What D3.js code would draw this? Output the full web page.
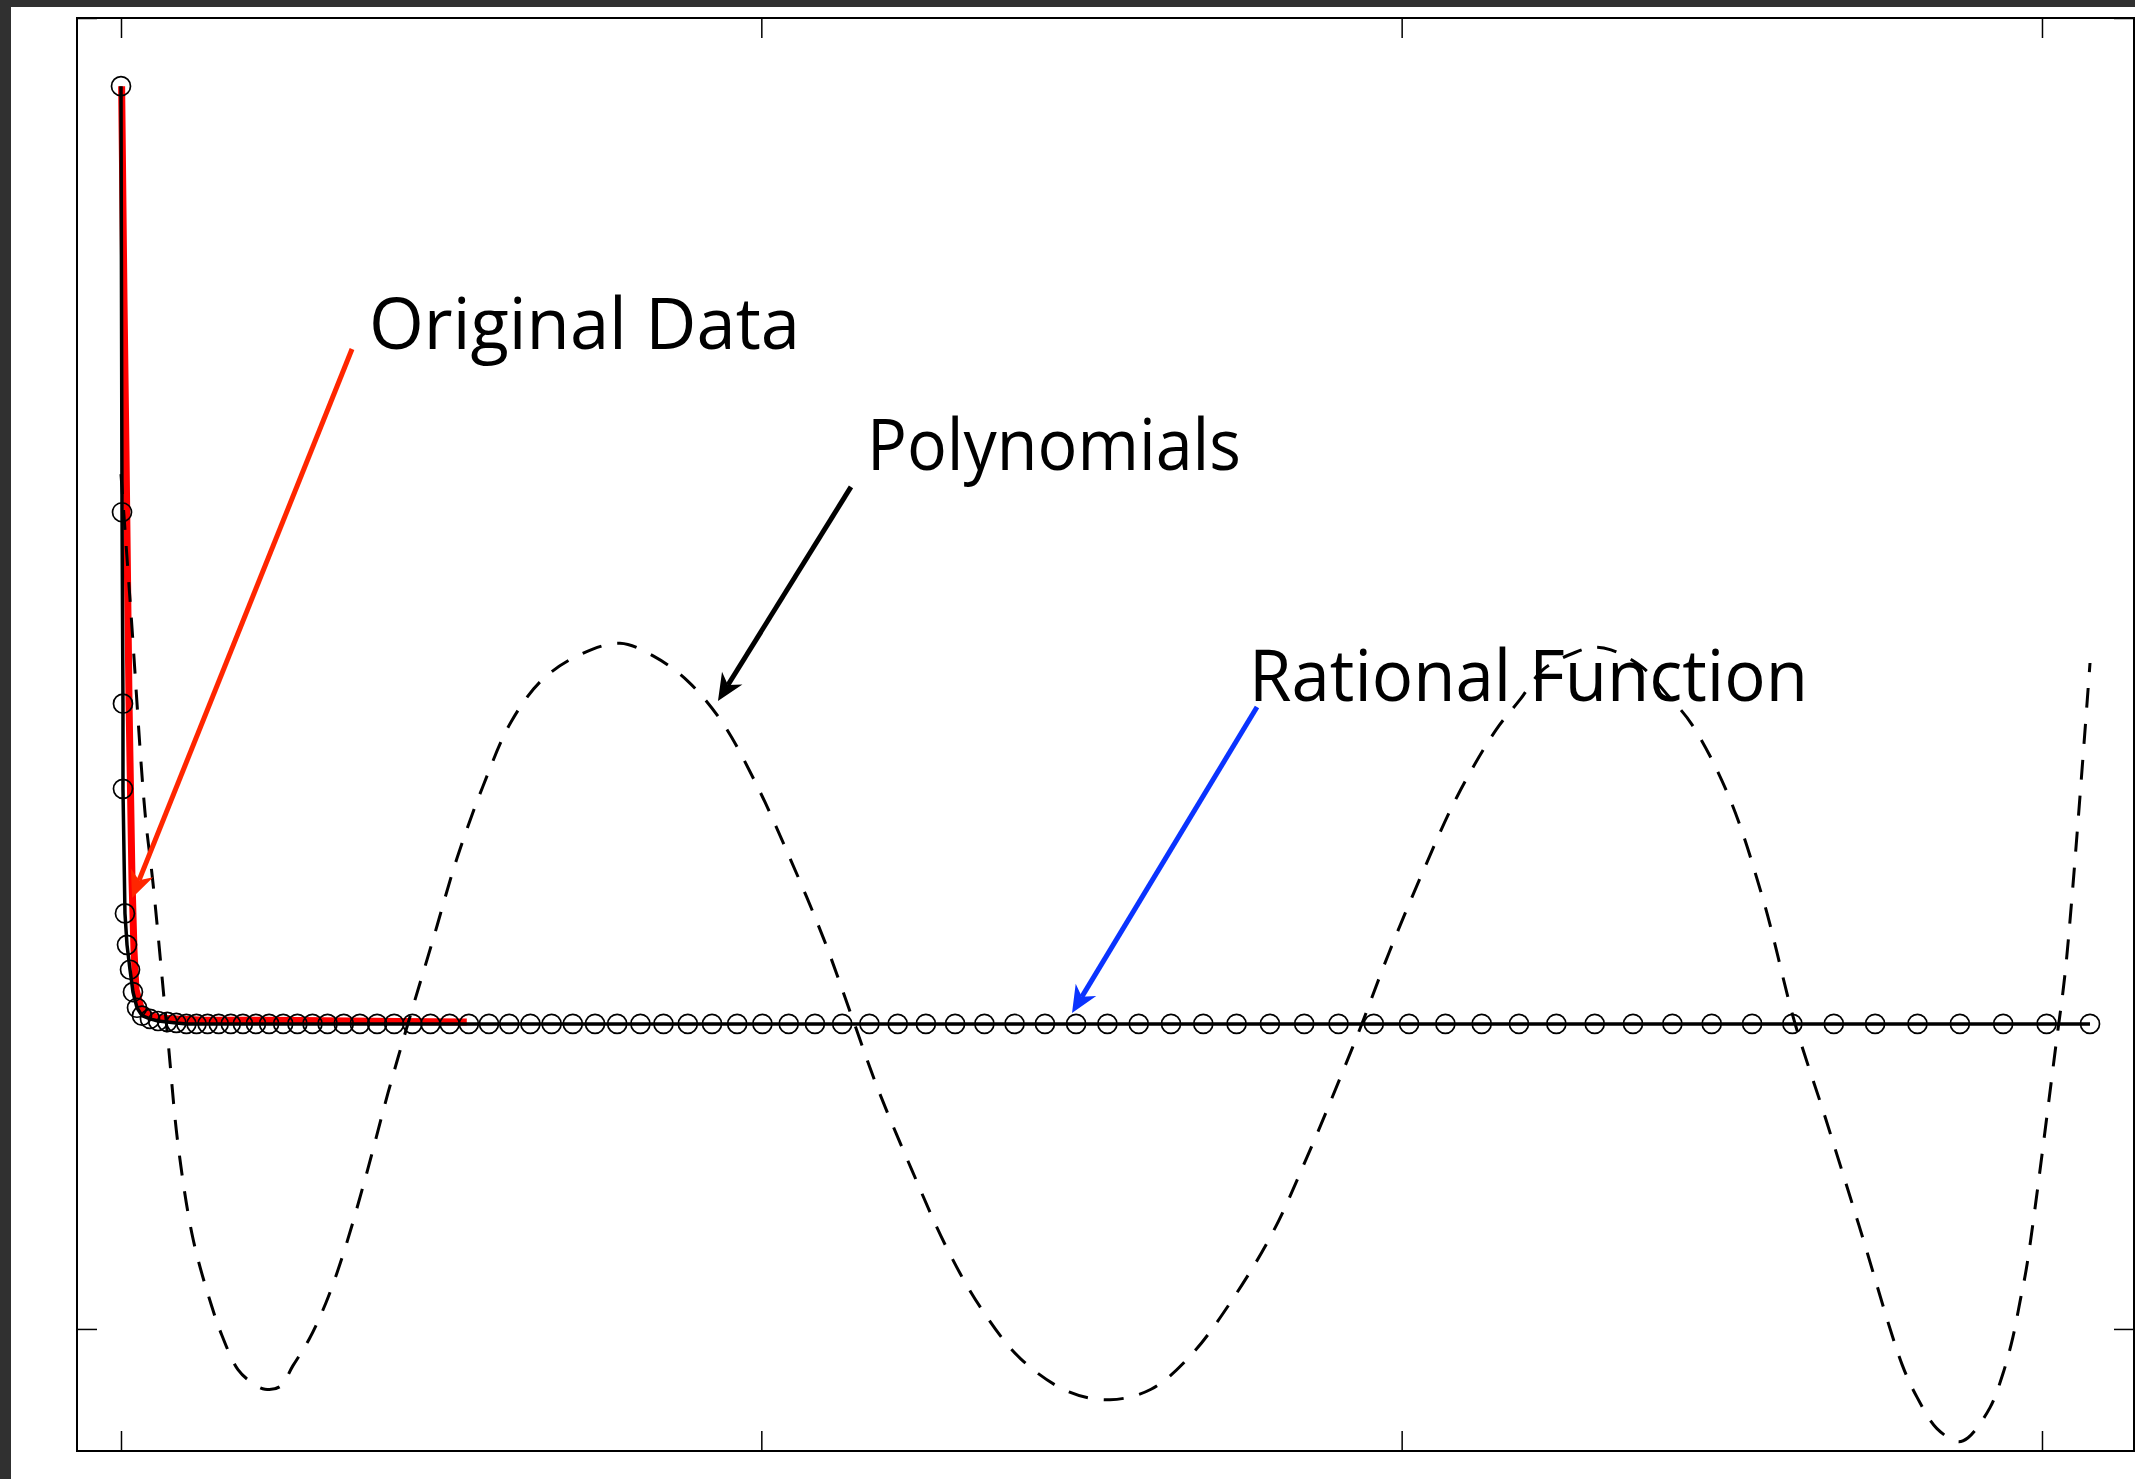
<!DOCTYPE html>
<html>
<head>
<meta charset="utf-8">
<script src="https://cdn.jsdelivr.net/npm/d3@7"></script>
<style>
  html, body { margin: 0; padding: 0; background: #fff; }
  svg { display: block; }
  .lbl { font-family: "Open Sans", "Noto Sans", sans-serif; font-size: 72px; fill: #000; }
</style>
</head>
<body>
<div id="chart"></div>
<script>

// Tick positions (no labels are shown in the figure)
var xTicks = [0, 1, 2, 3];
var yTicks = [0, 1];

// Original data (thick red line)
var dataX = [0.001, 0.0047, 0.0078, 0.0125, 0.0172, 0.0203, 0.0234, 0.0312, 0.042, 0.061, 0.123, 0.280, 0.436, 0.540];
var dataY = [0.948, 0.785, 0.670, 0.480, 0.342, 0.289, 0.259, 0.245, 0.240, 0.237, 0.2357, 0.2353, 0.2346, 0.2342];

// Rational function samples (black line with circles)
var ratX = [0, 0.0016, 0.0031, 0.0031, 0.0062, 0.0094, 0.0141, 0.0187, 0.0250, 0.0328,
    0.0453, 0.0579, 0.0722, 0.0864, 0.1021, 0.1179, 0.1352, 0.1526, 0.1715, 0.1904,
    0.2108, 0.2313, 0.2533, 0.2755, 0.2991, 0.3226, 0.3479, 0.3731, 0.4000, 0.4266,
    0.4551, 0.4833, 0.5133, 0.5433, 0.5747, 0.6063, 0.6394, 0.6725, 0.7056, 0.7403,
    0.7749, 0.8112, 0.8472, 0.8852, 0.9230, 0.9623, 1.0017, 1.0428, 1.0837, 1.1263,
    1.1688, 1.2130, 1.2570, 1.3026, 1.3484, 1.3955, 1.4429, 1.4916, 1.5405, 1.5894,
    1.6398, 1.6902, 1.7422, 1.7943, 1.8478, 1.9014, 1.9565, 2.0116, 2.0683, 2.1250,
    2.1832, 2.2416, 2.3015, 2.3613, 2.4228, 2.4842, 2.5473, 2.6102, 2.6749, 2.7394,
    2.8056, 2.8718, 2.9394, 3.0072, 3.0750];
var ratY = [0.948, 0.623, 0.477, 0.412, 0.317, 0.293, 0.274, 0.257, 0.245, 0.239,
    0.2365, 0.2349, 0.2342, 0.2334, 0.2327, 0.2327, 0.2327, 0.2327, 0.2327, 0.2327,
    0.2327, 0.2327, 0.2327, 0.2327, 0.2327, 0.2327, 0.2327, 0.2327, 0.2327, 0.2327,
    0.2327, 0.2327, 0.2327, 0.2327, 0.2327, 0.2327, 0.2327, 0.2327, 0.2327, 0.2327,
    0.2327, 0.2327, 0.2327, 0.2327, 0.2327, 0.2327, 0.2327, 0.2327, 0.2327, 0.2327,
    0.2327, 0.2327, 0.2327, 0.2327, 0.2327, 0.2327, 0.2327, 0.2327, 0.2327, 0.2327,
    0.2327, 0.2327, 0.2327, 0.2327, 0.2327, 0.2327, 0.2327, 0.2327, 0.2327, 0.2327,
    0.2327, 0.2327, 0.2327, 0.2327, 0.2327, 0.2327, 0.2327, 0.2327, 0.2327, 0.2327,
    0.2327, 0.2327, 0.2327, 0.2327, 0.2327];

// Polynomial interpolant (dashed)
var polyX = [0, 0.0156, 0.0375, 0.050, 0.0734, 0.0890, 0.1124, 0.1406, 0.1577, 0.1827,
    0.2046, 0.2249, 0.2483, 0.2686, 0.2936, 0.3201, 0.3483, 0.3827, 0.4170, 0.4482,
    0.4873, 0.5247, 0.5653, 0.6091, 0.6575, 0.7153, 0.7793, 0.8324, 0.8855, 0.9386,
    0.9917, 1.0448, 1.0979, 1.1401, 1.1822, 1.2353, 1.2884, 1.3415, 1.4055, 1.4805,
    1.5445, 1.6086, 1.6710, 1.7351, 1.7991, 1.8522, 1.9053, 1.9381, 1.9803, 2.0334,
    2.0865, 2.1474, 2.1848, 2.2208, 2.2707, 2.2988, 2.3269, 2.3753, 2.4144, 2.4534,
    2.5112, 2.5643, 2.6143, 2.6611, 2.7142, 2.7814, 2.8048, 2.8360, 2.8688, 2.8845,
    2.9188, 2.9391, 2.9547, 2.9657, 2.9766, 3.0219, 3.0375, 3.0750];
var polyY = [0.652, 0.546, 0.394, 0.340, 0.220, 0.141, 0.069, 0.019, -0.005, -0.031,
    -0.041, -0.046, -0.044, -0.028, -0.008, 0.020, 0.059, 0.117, 0.180, 0.233,
    0.297, 0.359, 0.414, 0.463, 0.495, 0.514, 0.523, 0.513, 0.494, 0.463,
    0.416, 0.359, 0.297, 0.240, 0.183, 0.121, 0.063, 0.017, -0.023, -0.048,
    -0.054, -0.046, -0.020, 0.022, 0.074, 0.131, 0.193, 0.233, 0.287, 0.349,
    0.406, 0.457, 0.480, 0.503, 0.516, 0.520, 0.518, 0.505, 0.484, 0.461,
    0.406, 0.328, 0.233, 0.162, 0.079, -0.027, -0.052, -0.076, -0.086, -0.083,
    -0.060, -0.034, -0.006, 0.021, 0.049, 0.217, 0.278, 0.508];

// Annotations: label text, label anchor, arrow start and arrow tip (data units)
var noteText = ["Original Data", "Polynomials", "Rational Function"];
var noteAt = [[0.3873, 0.7475], [1.1650, 0.6552], [1.7616, 0.4790]];
var arrowFrom = [[0.3608, 0.7475], [1.1400, 0.6423], [1.7741, 0.4744]];
var arrowTo = [[0.0172, 0.3288], [0.9323, 0.4790], [1.4852, 0.2410]];
var arrowColor = ["#ff2600", "#000000", "#0a33ff"];
var noteWidth = [431, 374, 559];

(function(d3) {

    var W = 2135, H = 1479;
    var box = {left: 77, top: 18, right: 2134, bottom: 1451};

    var x = d3.scaleLinear().domain([-0.0687, 3.1437]).range([box.left, box.right]);
    var y = d3.scaleLinear().domain([-0.0931, 1.0]).range([box.bottom, box.top]);

    var svg = d3.select("#chart").append("svg")
        .attr("width", W)
        .attr("height", H);

    svg.append("rect").attr("width", W).attr("height", H).attr("fill", "#fff");
    // dark frame on top / left edge
    svg.append("rect").attr("x", 0).attr("y", 0).attr("width", 11).attr("height", H).attr("fill", "#303030");
    svg.append("rect").attr("x", 0).attr("y", 0).attr("width", W).attr("height", 7).attr("fill", "#303030");

    // Axes: inward ticks on all four sides, no labels
    function tickAxis(axis, tx, ty) {
        var g = svg.append("g")
            .attr("transform", "translate(" + tx + "," + ty + ")")
            .call(axis.tickSizeInner(-20).tickSizeOuter(0).tickFormat(""));
        g.select(".domain").remove();
        g.selectAll(".tick line").attr("stroke", "#000").attr("stroke-width", 1.5);
    }
    tickAxis(d3.axisBottom(x).tickValues(xTicks), 0, box.bottom);
    tickAxis(d3.axisTop(x).tickValues(xTicks), 0, box.top);
    tickAxis(d3.axisLeft(y).tickValues(yTicks), box.left, 0);
    tickAxis(d3.axisRight(y).tickValues(yTicks), box.right, 0);

    svg.append("rect")
        .attr("x", box.left).attr("y", box.top)
        .attr("width", box.right - box.left)
        .attr("height", box.bottom - box.top)
        .attr("fill", "none")
        .attr("stroke", "#000")
        .attr("stroke-width", 2);

    var data = dataX.map(function(v, i) { return [v, dataY[i]]; });
    var rat = ratX.map(function(v, i) { return [v, ratY[i]]; });
    var poly = polyX.map(function(v, i) { return [v, polyY[i]]; });

    var line = d3.line()
        .x(function(d) { return x(d[0]); })
        .y(function(d) { return y(d[1]); });

    // Original data
    svg.append("path")
        .attr("d", line(data))
        .attr("fill", "none")
        .attr("stroke", "#ff0000")
        .attr("stroke-width", 7)
        .attr("stroke-linejoin", "round");

    // Polynomials
    svg.append("path")
        .attr("d", line.curve(d3.curveCatmullRom)(poly))
        .attr("fill", "none")
        .attr("stroke", "#000")
        .attr("stroke-width", 3)
        .attr("stroke-dasharray", "20,16");
    line.curve(d3.curveLinear);

    // Rational function
    svg.append("path")
        .attr("d", line(rat))
        .attr("fill", "none")
        .attr("stroke", "#000")
        .attr("stroke-width", 3.5)
        .attr("stroke-linejoin", "round");

    svg.append("g").selectAll("circle")
        .data(rat)
        .enter().append("circle")
            .attr("cx", function(d) { return x(d[0]); })
            .attr("cy", function(d) { return y(d[1]); })
            .attr("r", 9.5)
            .attr("fill", "none")
            .attr("stroke", "#000")
            .attr("stroke-width", 1.7);

    // Arrows and labels
    noteText.forEach(function(t, i) {
        var x0 = x(arrowFrom[i][0]), y0 = y(arrowFrom[i][1]);
        var x1 = x(arrowTo[i][0]), y1 = y(arrowTo[i][1]);
        var len = Math.sqrt((x1 - x0) * (x1 - x0) + (y1 - y0) * (y1 - y0));
        var ux = (x1 - x0) / len, uy = (y1 - y0) / len;
        var nx = -uy, ny = ux;
        var L = 27, Wd = 12;
        var bx = x1 - 0.7 * L * ux, by = y1 - 0.7 * L * uy;

        svg.append("line")
            .attr("x1", x0).attr("y1", y0)
            .attr("x2", bx).attr("y2", by)
            .attr("stroke", arrowColor[i])
            .attr("stroke-width", 5);

        var head = [
            [x1, y1],
            [x1 - L * ux + Wd * nx, y1 - L * uy + Wd * ny],
            [bx, by],
            [x1 - L * ux - Wd * nx, y1 - L * uy - Wd * ny]
        ];
        svg.append("path")
            .attr("d", "M" + head.join("L") + "Z")
            .attr("fill", arrowColor[i]);

        svg.append("text")
            .attr("class", "lbl")
            .attr("x", x(noteAt[i][0]))
            .attr("y", y(noteAt[i][1]))
            .attr("textLength", noteWidth[i])
            .attr("lengthAdjust", "spacingAndGlyphs")
            .text(t);
    });

})(d3);
</script>
</body>
</html>
